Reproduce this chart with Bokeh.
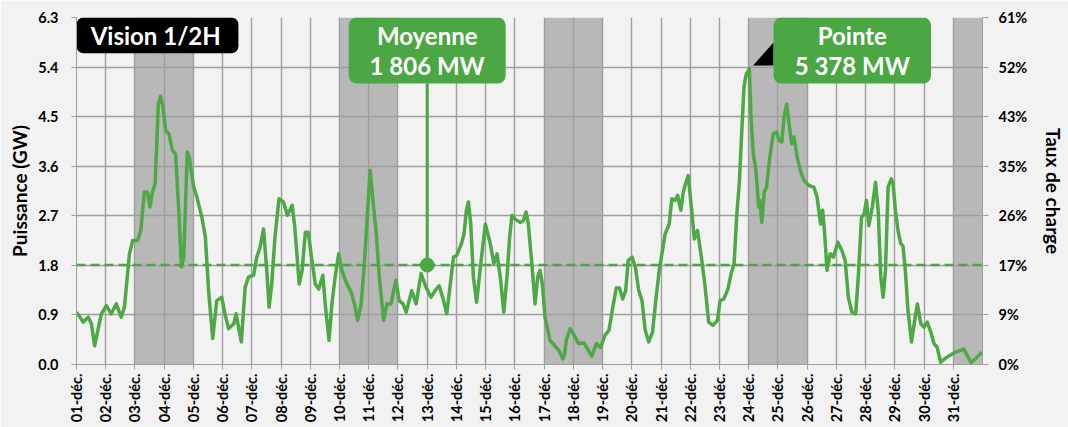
import math
from bokeh.plotting import figure
from bokeh.models import Range1d, LinearAxis, FixedTicker, Span, NumeralTickFormatter
from bokeh.core.properties import value
from bokeh.embed import file_html
from bokeh.resources import INLINE

# ---------------- data ----------------
# time in days since 01-déc 00:00, power in GW
day_pos = [
    0.00, 0.23, 0.40, 0.51, 0.62, 0.73, 0.85, 1.02, 1.19, 1.36, 1.53, 1.64, 1.81, 1.92,
    2.09, 2.20, 2.32, 2.43, 2.51, 2.60, 2.69, 2.80, 2.88, 2.96, 3.05, 3.16, 3.28, 3.39,
    3.50, 3.59, 3.67, 3.79, 3.86, 4.01, 4.12, 4.29, 4.41, 4.52, 4.66, 4.80, 4.97, 5.08,
    5.20, 5.38, 5.46, 5.64, 5.77, 5.89, 6.06, 6.17, 6.28, 6.40, 6.51, 6.59, 6.68, 6.79,
    6.93, 7.08, 7.22, 7.38, 7.47, 7.62, 7.72, 7.83, 7.93, 8.04, 8.17, 8.29, 8.43, 8.51,
    8.64, 8.74, 8.85, 8.97, 9.08, 9.23, 9.40, 9.51, 9.62, 9.74, 9.85, 9.96, 10.05, 10.13,
    10.25, 10.36, 10.51, 10.62, 10.76, 10.93, 11.04, 11.17, 11.28, 11.47, 11.62, 11.79,
    11.96, 12.13, 12.27, 12.41, 12.56, 12.67, 12.75, 12.90, 13.01, 13.17, 13.26, 13.34,
    13.41, 13.49, 13.58, 13.69, 13.82, 13.99, 14.16, 14.28, 14.39, 14.50, 14.62, 14.73,
    14.82, 14.90, 15.01, 15.18, 15.29, 15.38, 15.46, 15.58, 15.69, 15.78, 15.86, 15.94,
    16.03, 16.20, 16.37, 16.51, 16.64, 16.70, 16.76, 16.89, 17.03, 17.18, 17.37, 17.49,
    17.63, 17.79, 17.94, 18.08, 18.22, 18.33, 18.47, 18.58, 18.69, 18.79, 18.88, 19.01,
    19.12, 19.24, 19.35, 19.46, 19.58, 19.71, 19.82, 19.94, 20.05, 20.14, 20.28, 20.37,
    20.48, 20.57, 20.68, 20.76, 20.84, 20.93, 21.05, 21.14, 21.25, 21.38, 21.50, 21.63,
    21.78, 21.93, 22.02, 22.15, 22.29, 22.40, 22.50, 22.59, 22.68, 22.76, 22.84, 22.92,
    22.97, 23.02, 23.08, 23.16, 23.25, 23.34, 23.38, 23.45, 23.53, 23.61, 23.72, 23.84,
    23.95, 24.04, 24.13, 24.21, 24.30, 24.38, 24.47, 24.55, 24.66, 24.77, 24.89, 25.06,
    25.23, 25.34, 25.46, 25.53, 25.60, 25.68, 25.79, 25.90, 26.05, 26.19, 26.30, 26.41,
    26.53, 26.66, 26.75, 26.86, 26.95, 27.03, 27.11, 27.23, 27.34, 27.43, 27.52, 27.60,
    27.68, 27.77, 27.88, 27.94, 28.02, 28.11, 28.20, 28.28, 28.36, 28.45, 28.57, 28.68,
    28.77, 28.89, 29.00, 29.11, 29.23, 29.34, 29.45, 29.57, 29.70, 29.86, 30.05, 30.22,
    30.36, 30.48, 30.61, 30.75, 30.86, 30.98,
]
power_gw = [
    0.95, 0.77, 0.86, 0.74, 0.34, 0.62, 0.92, 1.07, 0.92, 1.10, 0.86, 1.04, 2.00, 2.25,
    2.25, 2.43, 3.13, 3.13, 2.86, 3.13, 3.28, 4.73, 4.87, 4.67, 4.25, 4.19, 3.89, 3.82,
    2.80, 1.77, 1.95, 3.86, 3.76, 3.22, 3.04, 2.67, 2.31, 1.34, 0.47, 1.16, 1.22, 0.92,
    0.65, 0.74, 0.92, 0.41, 1.40, 1.59, 1.62, 1.95, 2.13, 2.46, 1.71, 1.04, 1.46, 2.31,
    3.01, 2.95, 2.71, 2.89, 2.49, 1.46, 1.71, 2.40, 2.40, 1.95, 1.46, 1.37, 1.62, 1.10,
    0.44, 1.10, 1.59, 2.01, 1.71, 1.49, 1.31, 1.10, 0.80, 1.10, 1.83, 2.80, 3.52, 3.04,
    2.43, 1.59, 0.80, 1.10, 1.10, 1.53, 1.16, 1.10, 0.95, 1.34, 1.10, 1.65,
    1.40, 1.22, 1.34, 1.43, 1.16, 0.92, 1.28, 1.95, 1.98, 2.19, 2.37, 2.80,
    2.95, 2.55, 1.59, 1.13, 1.77, 2.55, 2.19, 1.83, 2.01, 1.59, 0.95, 1.59,
    2.31, 2.71, 2.64, 2.58, 2.61, 2.77, 2.55, 1.83, 1.10, 1.59, 1.71, 1.46,
    0.86, 0.44, 0.34, 0.25, 0.10, 0.19, 0.44, 0.65, 0.53, 0.38, 0.39, 0.28,
    0.15, 0.38, 0.31, 0.53, 0.62, 0.98, 1.39, 1.39, 1.19, 1.34, 1.89, 1.95,
    1.77, 1.34, 1.16, 0.62, 0.41, 0.59, 1.16, 1.71, 2.07, 2.37, 2.55, 3.01,
    2.98, 3.07, 2.80, 3.13, 3.28, 3.43, 2.80, 2.28, 2.43, 1.95, 1.46, 0.77,
    0.71, 0.80, 1.16, 1.19, 1.37, 1.65, 1.83, 2.70, 3.30, 4.20, 5.05, 5.28,
    5.31, 5.378, 4.49, 3.82, 3.52, 2.86, 2.98, 2.58, 3.13, 3.22, 3.76, 4.19,
    4.22, 4.07, 4.04, 4.49, 4.73, 4.37, 4.01, 4.13, 3.76, 3.52, 3.34, 3.25,
    3.22, 3.04, 2.55, 2.80, 2.37, 1.71, 2.01, 1.95, 2.22, 2.07, 1.89, 1.22,
    0.95, 0.92, 1.59, 2.67, 2.73, 2.98, 2.52, 2.86, 3.31, 2.80, 1.59, 1.22,
    1.71, 3.22, 3.37, 3.28, 2.80, 2.43, 2.20, 2.15, 1.71, 0.98, 0.41, 0.80,
    1.10, 0.74, 0.68, 0.77, 0.59, 0.38, 0.31, 0.04, 0.10, 0.16, 0.22, 0.25,
    0.28, 0.16, 0.04, 0.10, 0.16, 0.22,
]

day_labels = ["01-déc.", "02-déc.", "03-déc.", "04-déc.", "05-déc.", "06-déc.", "07-déc.",
              "08-déc.", "09-déc.", "10-déc.", "11-déc.", "12-déc.", "13-déc.", "14-déc.",
              "15-déc.", "16-déc.", "17-déc.", "18-déc.", "19-déc.", "20-déc.", "21-déc.",
              "22-déc.", "23-déc.", "24-déc.", "25-déc.", "26-déc.", "27-déc.", "28-déc.",
              "29-déc.", "30-déc.", "31-déc."]
gw_ticks = [0.0, 0.9, 1.8, 2.7, 3.6, 4.5, 5.4, 6.3]
pct_labels = ["0%", "9%", "17%", "26%", "35%", "43%", "52%", "61%"]
weekend_start = [2, 9, 16, 23, 30]   # day index of weekend starts (Sat)
mean_mw = 1806
peak_mw = 5378
mean_day = 12.0
peak_day = 23.02

# ---------------- style ----------------
FONT = "Lato"
GREEN = "#4BA744"
LINE_GREEN = "#4EA845"
BG = "#F2F2F2"
GRID = "#9E9E9E"
BAND = "#B8B8B8"
N_DAYS = len(day_labels)

p = figure(width=1068, height=427, output_backend="svg", toolbar_location=None,
           x_range=Range1d(0, N_DAYS), y_range=Range1d(0, 6.3),
           min_border_left=76, min_border_right=77, min_border_top=17, min_border_bottom=63,
           background_fill_color=BG, border_fill_color=BG, outline_line_color=None)

# weekend bands
p.quad(left=weekend_start, right=[min(s + 2, N_DAYS) for s in weekend_start],
       bottom=0, top=6.3, fill_color=BAND, line_color=None, level="image")

# grids
p.xgrid.ticker = FixedTicker(ticks=list(range(0, N_DAYS + 1)))
p.ygrid.ticker = FixedTicker(ticks=gw_ticks)
for g in (p.xgrid, p.ygrid):
    g.grid_line_color = GRID
    g.grid_line_width = 1.4

# x axis
xa = p.xaxis[0]
xa.ticker = FixedTicker(ticks=list(range(0, N_DAYS)))
xa.major_label_overrides = {i: lab for i, lab in enumerate(day_labels)}
xa.major_label_orientation = math.pi / 2
xa.major_tick_out = 5
xa.major_tick_in = 0
xa.minor_tick_line_color = None
xa.major_label_standoff = 4
xa.axis_line_color = GRID
xa.major_tick_line_color = GRID

# left y axis
ya = p.yaxis[0]
ya.ticker = FixedTicker(ticks=gw_ticks)
ya.formatter = NumeralTickFormatter(format="0.0")
ya.axis_label = "Puissance (GW)"
ya.major_tick_out = 5
ya.major_tick_in = 0
ya.minor_tick_line_color = None
ya.major_label_standoff = 13
ya.axis_label_standoff = 4
ya.axis_line_color = GRID
ya.major_tick_line_color = GRID

# right y axis
ra = LinearAxis(ticker=FixedTicker(ticks=gw_ticks),
                major_label_overrides={t: lab for t, lab in zip(gw_ticks, pct_labels)},
                axis_label="Taux de charge")
ra.major_tick_out = 6
ra.major_tick_in = 0
ra.minor_tick_line_color = None
ra.major_label_standoff = 10
ra.axis_label_standoff = 12
ra.axis_line_color = GRID
ra.major_tick_line_color = GRID
p.add_layout(ra, "right")

for ax in (xa, ya, ra):
    ax.major_label_text_font = FONT
    ax.major_label_text_font_style = "bold"
    ax.major_label_text_font_size = "14.5px"
    ax.major_label_text_color = "black"
    ax.axis_label_text_font = FONT
    ax.axis_label_text_font_style = "bold"
    ax.axis_label_text_font_size = "19px"
    ax.axis_label_text_color = "black"

# series
p.line(day_pos, power_gw, line_color=LINE_GREEN, line_width=3.5, line_join="round")

# mean line
p.add_layout(Span(location=mean_mw / 1000, dimension="width", line_color=GREEN,
                  line_width=2.5, line_dash="9 5"))

# --- callouts ---
BOX_W = 5.37
BOX_BOTTOM = 5.10
TEXT_FONT = dict(text_font=value(FONT), text_font_style="bold", text_font_size="24px",
                 text_align="center", text_baseline="middle")

# Vision 1/2H
p.quad(left=[0], right=[5.54], top=[6.3], bottom=[5.65], fill_color="black",
       line_color=None, border_radius=7)
p.text(x=[2.71], y=[5.97], text=["Vision 1/2H"], text_color="white", **TEXT_FONT)

# Moyenne
mean_gw = mean_mw / 1000
p.segment(x0=[mean_day], y0=[mean_gw], x1=[mean_day], y1=[BOX_BOTTOM],
          line_color=GREEN, line_width=3)
p.scatter([mean_day], [mean_gw], size=14, color=GREEN)
p.quad(left=[mean_day - BOX_W / 2], right=[mean_day + BOX_W / 2], top=[6.3],
       bottom=[BOX_BOTTOM], fill_color=GREEN, line_color=None, border_radius=8)
p.text(x=[mean_day, mean_day], y=[5.98, 5.42],
       text=["Moyenne", "1 806 MW"], text_color="white", **TEXT_FONT)

# Pointe
peak_gw = peak_mw / 1000
pbox_left = 23.85
p.patch([peak_day + 0.13, pbox_left, pbox_left],
        [peak_gw + 0.05, peak_gw + 0.05, peak_gw + 0.47], color="black", line_color=None)
p.quad(left=[pbox_left], right=[pbox_left + BOX_W + 0.02], top=[6.3],
       bottom=[BOX_BOTTOM], fill_color=GREEN, line_color=None, border_radius=8)
pc = pbox_left + (BOX_W + 0.02) / 2
p.text(x=[pc, pc], y=[5.98, 5.42], text=["Pointe", "5 378 MW"],
       text_color="white", **TEXT_FONT)

open("out.html", "w").write(file_html(p, INLINE))
